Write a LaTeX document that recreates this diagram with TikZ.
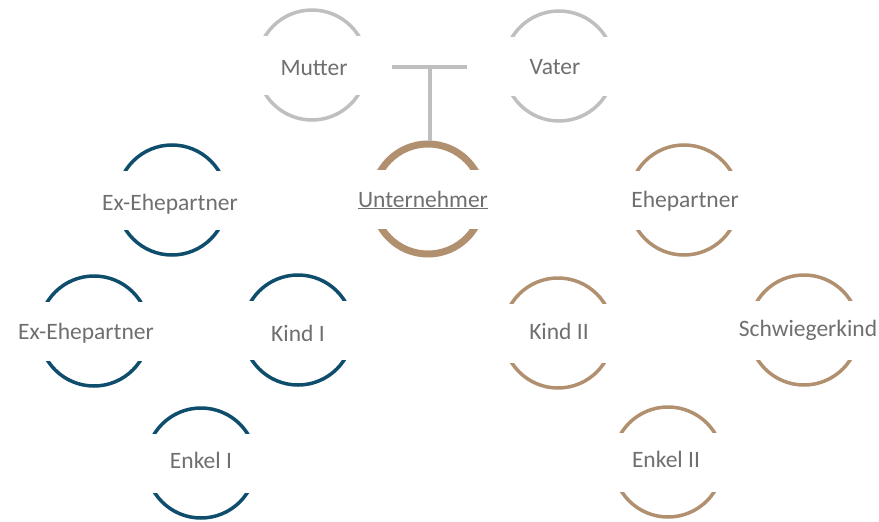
\documentclass[tikz,border=0pt]{standalone}
\usepackage{fontspec}
\setmainfont{Carlito}
\definecolor{cgray}{HTML}{BFBFBF}
\definecolor{cblue}{HTML}{0E4D6C}
\definecolor{ctan}{HTML}{B1906F}
\definecolor{tgray}{HTML}{6F6F6F}
\begin{document}
\begin{tikzpicture}[x=1pt,y=-1pt,
  ring/.style={circle, draw=#1, line width=3.5pt, minimum size=110pt, inner sep=0pt},
  band/.style={fill=white, minimum width=126pt, minimum height=59pt, inner sep=0pt},
  lbl/.style={anchor=base, text=tgray, font=\fontsize{23.5}{26}\selectfont, inner sep=0pt}]
\useasboundingbox (0,0) rectangle (879,522);
% rings
\node[ring=cgray] (mutter) at (312,65) {};
\node[ring=cgray] (vater) at (559,66) {};
\node[ring=ctan, line width=7pt] (unt) at (428,199) {};
\node[ring=cblue] (exa) at (172,200) {};
\node[ring=ctan] (ehe) at (684,200) {};
\node[ring=cblue] (exb) at (94,331) {};
\node[ring=cblue] (kind1) at (298,330) {};
\node[ring=cblue] (enkel1) at (201,463) {};
\node[ring=ctan] (kind2) at (558,333) {};
\node[ring=ctan] (schw) at (804,330) {};
\node[ring=ctan] (enkel2) at (668,462) {};
% white bands
\foreach \n in {mutter,vater,unt,exa,ehe,exb,kind1,enkel1,kind2,schw,enkel2}
  \node[band] (\n-b) at (\n) {};
% labels
\node[lbl] (mutter-t) at (314,75) {Mutter};
\node[lbl] (vater-t) at (555,74) {Vater};
\node[lbl] (unt-t) at (423,207) {\underline{Unternehmer}};
\node[lbl] (exa-t) at (170,210) {Ex-Ehepartner};
\node[lbl] (ehe-t) at (685,207) {Ehepartner};
\node[lbl] (exb-t) at (86,339) {Ex-Ehepartner};
\node[lbl] (kind1-t) at (298,341) {Kind I};
\node[lbl] (enkel1-t) at (201,468) {Enkel I};
\node[lbl] (kind2-t) at (559,339) {Kind II};
\node[lbl] (schw-t) at (808,336) {Schwiegerkind};
\node[lbl] (enkel2-t) at (666,467) {Enkel II};
% parents connector
\coordinate (pl) at (392,67);
\coordinate (pr) at (467,67);
\coordinate (pm) at (430,67);
\draw[cgray, line width=3.5pt] (pl) -- (pr);
\draw[cgray, line width=3.5pt] (pm) -- (pm |- unt.north);
\end{tikzpicture}
\end{document}
